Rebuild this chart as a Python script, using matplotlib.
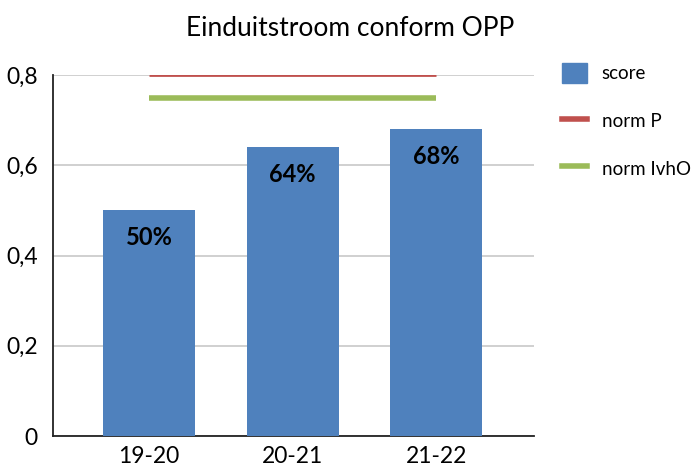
import matplotlib
matplotlib.use("Agg")
import matplotlib.pyplot as plt
from matplotlib.patches import Patch
from matplotlib.lines import Line2D

categories = ["19-20", "20-21", "21-22"]
scores = [0.50, 0.64, 0.68]
labels = ["50%", "64%", "68%"]
norm_p = [0.80, 0.80, 0.80]
norm_ivho = [0.75, 0.75, 0.75]
yticks = [0, 0.2, 0.4, 0.6, 0.8]
yticklabels = ["0", "0,2", "0,4", "0,6", "0,8"]

plt.rcParams['font.family'] = ['Lato', 'DejaVu Sans']

blue = "#4F81BD"
red = "#C0504D"
green = "#9BBB59"

fig = plt.figure(figsize=(7, 4.7), dpi=100)
ax = fig.add_axes([0.0757, 0.0723, 0.687, 0.768])

x = list(range(len(categories)))
ax.bar(x, scores, width=0.64, color=blue, zorder=3)
ax.plot(x, norm_p, color=red, lw=2, zorder=4, solid_capstyle='butt')
ax.plot(x, norm_ivho, color=green, lw=4, zorder=4, solid_capstyle='butt')

for xi, v, lab in zip(x, scores, labels):
    ax.text(xi, v - 0.06, lab, ha='center', va='center', fontsize=17,
            fontweight='bold', color='black', zorder=5)

ax.set_xlim(-0.67, 2.68)
ax.set_ylim(0, 0.8)
ax.set_yticks(yticks)
ax.set_yticklabels(yticklabels, fontsize=16.5)
ax.set_xticks(x)
ax.set_xticklabels(categories, fontsize=16.5)
ax.tick_params(axis='both', length=0, pad=7)
ax.tick_params(axis='y', pad=11)
ax.yaxis.grid(True, color='#C8C8C8', lw=1.2, zorder=0)
ax.set_axisbelow(True)
for s in ['top', 'right']:
    ax.spines[s].set_visible(False)
for s in ['left', 'bottom']:
    ax.spines[s].set_color('#222222')
    ax.spines[s].set_linewidth(1.3)

fig.suptitle("Einduitstroom conform OPP", x=0.5, y=0.965, fontsize=19)

handles = [Patch(facecolor=blue, edgecolor=blue),
           Line2D([0], [0], color=red, lw=4),
           Line2D([0], [0], color=green, lw=4)]
fig.legend(handles, ["score", "norm P", "norm IvhO"],
           loc='upper left', bbox_to_anchor=(0.779, 0.902), frameon=False,
           fontsize=13.5, labelspacing=1.45, handlelength=1.3, handleheight=1.3,
           handletextpad=0.8)

fig.savefig("out.png", dpi=100)
